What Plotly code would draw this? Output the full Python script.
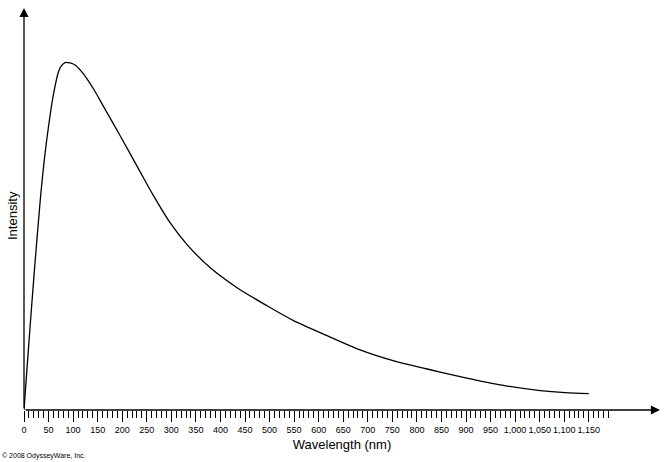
import plotly.graph_objects as go

# Data (wavelength in nm, relative intensity, peak = 100)
wavelength = [0, 8.1, 16.3, 22.4, 32.6, 40.7, 49.9, 59.7, 69.9, 76.4, 83.5, 93.7, 103.9,
              116, 128.3, 145, 160.9, 195.5, 236.3, 262.7, 297.4, 332.0, 378.8, 433.8, 494.9,
              547.9, 617.1, 684.3, 751.5, 820.8, 888.0, 914.5, 983.7, 1050.9, 1101.8, 1150]
intensity = [0, 15.8, 31.3, 42.3, 59.6, 71.2, 81.6, 90.6, 97.2, 99.1, 100, 99.9, 99.3,
             97.6, 95.3, 91.6, 87.6, 79.0, 68.6, 61.9, 53.9, 47.6, 41.0, 35.2, 30.0,
             25.8, 21.4, 17.3, 14.2, 11.8, 9.6, 8.8, 6.9, 5.6, 5.0, 4.7]

major_ticks = list(range(0, 1151, 50))
major_labels = [f"{v:,}" for v in major_ticks]
minor_ticks = [v for v in range(0, 1191, 10) if v % 50 != 0]

X_MAX = 1295
Y_MAX = 115.7

W, H = 666, 462
ML, MR, MT, MB = 24, 6, 8, 52
plot_w = W - ML - MR
plot_h = H - MT - MB

font_family = "Liberation Sans, Arial, Helvetica, sans-serif"

fig = go.Figure()
fig.add_trace(go.Scatter(
    x=wavelength, y=intensity, mode="lines",
    line=dict(color="black", width=1.3, shape="spline", smoothing=0.8),
    hoverinfo="skip", showlegend=False,
))

fig.update_layout(
    width=W, height=H,
    margin=dict(l=ML, r=MR, t=MT, b=MB, autoexpand=False),
    paper_bgcolor="white", plot_bgcolor="white",
    font=dict(family=font_family, color="black"),
    xaxis=dict(
        range=[0, X_MAX], showgrid=False, zeroline=False, showline=False,
        automargin=False,
        tickmode="array", tickvals=major_ticks, ticktext=major_labels,
        ticks="outside", ticklen=11, tickwidth=1, tickcolor="black",
        tickfont=dict(size=9, family=font_family, color="black"),
        minor=dict(tickmode="array", tickvals=minor_ticks, ticks="outside",
                   ticklen=7, tickwidth=1, tickcolor="black", showgrid=False),
        title=dict(text="Wavelength (nm)", font=dict(size=13, family=font_family),
                   standoff=6),
    ),
    yaxis=dict(
        range=[0, Y_MAX], showgrid=False, zeroline=False, showline=False,
        showticklabels=False, ticks="", automargin=False,
    ),
    annotations=[
        # x axis arrow
        dict(x=X_MAX, y=0, xref="x", yref="y", ax=0, ay=0, axref="x", ayref="y",
             showarrow=True, arrowhead=2, arrowsize=1.4, arrowwidth=1.3,
             arrowcolor="black", text=""),
        # y axis arrow
        dict(x=0, y=Y_MAX, xref="x", yref="y", ax=0, ay=0, axref="x", ayref="y",
             showarrow=True, arrowhead=2, arrowsize=1.4, arrowwidth=1.3,
             arrowcolor="black", text=""),
        dict(text="Intensity", textangle=-90,
             x=(12 - ML) / plot_w, y=(H - MB - 216) / plot_h,
             xref="paper", yref="paper", xanchor="center", yanchor="middle",
             showarrow=False, font=dict(size=13, family=font_family)),
        dict(text="© 2008 OdysseyWare, Inc.",
             x=(0 - ML) / plot_w, y=(H - MB - 456) / plot_h,
             xref="paper", yref="paper", xanchor="left", yanchor="middle",
             showarrow=False, font=dict(size=7, family=font_family)),
    ],
)

fig.write_html("out.html",
               config={"displayModeBar": False, "staticPlot": True},
               post_script="document.body.style.margin='0';document.body.style.padding='0';")
